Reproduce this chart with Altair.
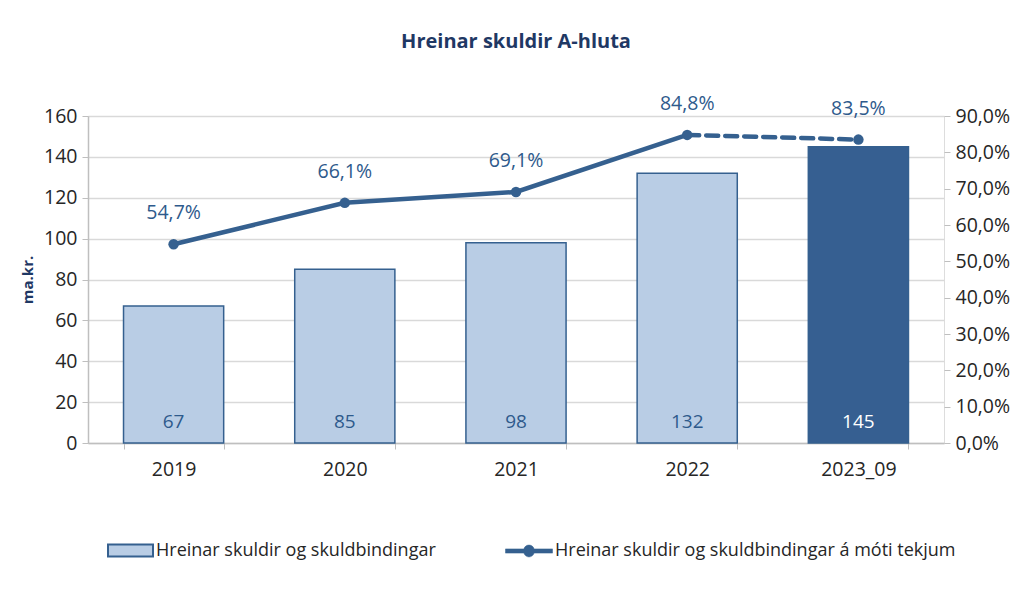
import altair as alt
import pandas as pd

years = ["2019", "2020", "2021", "2022", "2023_09"]
debt = [67, 85, 98, 132, 145]
ratio = [0.547, 0.661, 0.691, 0.848, 0.835]
idx = [0, 1, 2, 3, 4]
left_ticks = [0, 20, 40, 60, 80, 100, 120, 140, 160]
right_ticks = [0.0, 0.1, 0.2, 0.3, 0.4, 0.5, 0.6, 0.7, 0.8, 0.9]

BAR_NAME = "Hreinar skuldir og skuldbindingar"
LINE_NAME = "Hreinar skuldir og skuldbindingar á móti tekjum"

df = pd.DataFrame({"year": years, "debt": debt, "ratio": ratio, "idx": idx})
df["bar_series"] = BAR_NAME
df["line_series"] = LINE_NAME

FONT = "Open Sans"
LIGHT = "#B9CDE5"
DARK = "#365F91"
LINE = "#35608F"
TXT = "#2E5A8C"
TICK_FS = 19.5

x_enc = alt.X("year:N", sort=years, title=None,
              scale=alt.Scale(paddingInner=0.415, paddingOuter=0.2075),
              axis=alt.Axis(labelAngle=0, labelFont=FONT, labelFontSize=TICK_FS, labelColor="#262626",
                            labelPadding=11, tickBand="extent", tickColor="#BFBFBF", tickSize=6,
                            domainColor="#BFBFBF", domainWidth=1.5, grid=False))

y_left = alt.Y("debt:Q", title="ma.kr.",
               scale=alt.Scale(domain=[0, 160], nice=False),
               axis=alt.Axis(values=left_ticks, labelFont=FONT, labelFontSize=TICK_FS, labelColor="#262626",
                             titleFont=FONT, titleFontSize=15, titleFontWeight="bold", titleColor="#1F3864",
                             titlePadding=8, tickColor="#BFBFBF", tickSize=6, domainColor="#BFBFBF",
                             domainWidth=1.5, gridColor="#D9D9D9", gridWidth=1.5, labelPadding=5,
                             labelOverlap=False))

y_right = alt.Y("ratio:Q", title=None,
                scale=alt.Scale(domain=[0, 0.9], nice=False),
                axis=alt.Axis(orient="right", values=right_ticks,
                              labelExpr="replace(format(datum.value, '.1%'), '.', ',')",
                              labelFont=FONT, labelFontSize=TICK_FS, labelColor="#262626",
                              tickColor="#BFBFBF", tickSize=6, domain=False, grid=False,
                              labelPadding=5, labelOverlap=False, labelBound=False))

bars = alt.Chart(df).mark_bar(stroke=LINE, strokeWidth=1.5).encode(
    x=x_enc,
    y=y_left,
    fill=alt.condition(
        alt.datum.year == "2023_09",
        alt.value(DARK),
        alt.Fill("bar_series:N",
                 scale=alt.Scale(domain=[BAR_NAME], range=[LIGHT]),
                 legend=alt.Legend(title=None, orient="none", legendX=19, legendY=411,
                                   symbolType="M-1,-0.27L1,-0.27L1,0.27L-1,0.27Z",
                                   symbolSize=2025, symbolStrokeColor=LINE, symbolStrokeWidth=2,
                                   labelFont=FONT, labelFontSize=18, labelColor="#262626",
                                   labelOffset=2, labelLimit=0)),
    ),
)

bar_text = alt.Chart(df).mark_text(font=FONT, fontSize=19, baseline="middle", dy=-21).encode(
    x=x_enc,
    y=alt.datum(0),
    text=alt.Text("debt:Q", format=".0f"),
    color=alt.condition(alt.datum.year == "2023_09", alt.value("white"), alt.value(TXT)),
)

left_layer = alt.layer(bars, bar_text)

solid = alt.Chart(df).transform_filter(alt.datum.idx <= 3).mark_line(strokeWidth=4.5).encode(
    x=x_enc,
    y=y_right,
    stroke=alt.Stroke("line_series:N",
                      scale=alt.Scale(domain=[LINE_NAME], range=[LINE]),
                      legend=alt.Legend(title=None, orient="none", legendX=417, legendY=411,
                                        symbolType="M-1,-0.09L-0.22,-0.09A0.23,0.23,0,0,1,0.22,-0.09L1,-0.09L1,0.09L0.22,0.09A0.23,0.23,0,0,1,-0.22,0.09L-1,0.09Z",
                                        symbolSize=2209, symbolFillColor=LINE, symbolStrokeWidth=0.5,
                                        labelFont=FONT, labelFontSize=18, labelColor="#262626",
                                        labelOffset=2, labelLimit=0)),
)

dashed = alt.Chart(df).transform_filter(alt.datum.idx >= 3).mark_line(
    strokeWidth=4.5, strokeDash=[12, 7], color=LINE, strokeCap="round").encode(
    x=x_enc,
    y=y_right,
)

points = alt.Chart(df).mark_point(filled=True, size=110, color=LINE, opacity=1).encode(
    x=x_enc,
    y=y_right,
)

line_text = alt.Chart(df).transform_calculate(
    label="replace(format(datum.ratio, '.1%'), '.', ',')"
).mark_text(font=FONT, fontSize=19.5, color=TXT, baseline="middle", dy=-31).encode(
    x=x_enc,
    y=y_right,
    text="label:N",
)

right_layer = alt.layer(solid, dashed, points, line_text)

chart = alt.layer(left_layer, right_layer).resolve_scale(y="independent").properties(
    width=856,
    height=327,
    autosize=alt.AutoSizeParams(type="none"),
    padding={"left": 80, "top": 108, "right": 67, "bottom": 161},
    title=alt.TitleParams("Hreinar skuldir A-hluta", font=FONT, fontSize=20, fontWeight="bold",
                          color="#1F3864", anchor="middle", offset=42),
).configure_view(stroke=None).configure(background="white")

chart.save("out.html", embed_options={"renderer": "svg", "actions": False})
